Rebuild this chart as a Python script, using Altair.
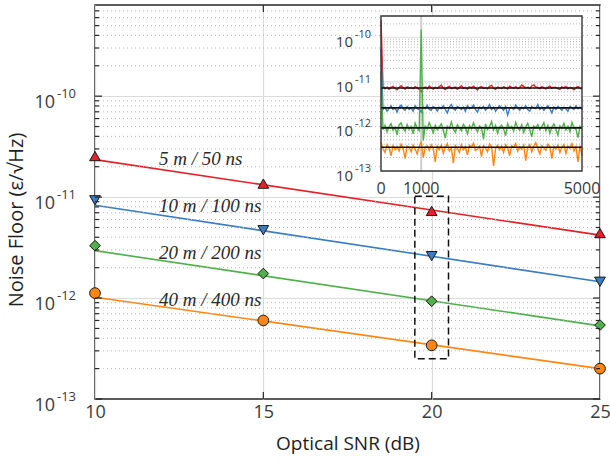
import altair as alt
import pandas as pd

# ---------------- main panel: noise floor vs optical SNR ----------------
snr_db = [10, 15, 20, 25]
series = ["5 m / 50 ns", "10 m / 100 ns", "20 m / 200 ns", "40 m / 400 ns"]
noise_5m = [2.55e-11, 1.36e-11, 7.3e-12, 4.4e-12]
noise_10m = [9.3e-12, 4.7e-12, 2.6e-12, 1.45e-12]
noise_20m = [3.3e-12, 1.75e-12, 9.3e-13, 5.4e-13]
noise_40m = [1.12e-12, 6.0e-13, 3.4e-13, 2.0e-13]

# fitted trend lines (value at 10 dB and at 25 dB)
fit_snr = [10, 25]
fit_5m = [2.35e-11, 4.2e-12]
fit_10m = [8.3e-12, 1.45e-12]
fit_20m = [2.95e-12, 5.3e-13]
fit_40m = [1.02e-12, 2.0e-13]

# in-plot series labels
label_snr = 11.9
label_noise = [2.38e-11, 8.1e-12, 2.8e-12, 9.5e-13]

# dashed box around the 20 dB points
box_snr = [19.5, 20.5]
box_noise = [1.02e-11, 2.5e-13]

colors = ["#e42228", "#3a7dc0", "#50b04b", "#ff8613"]
shapes = ["triangle-up", "triangle-down", "diamond", "circle"]
marker_sizes = [115, 115, 80, 90]

snr_ticks = [10, 15, 20, 25]
decades = [-13, -12, -11, -10]
y_lo, y_hi = 1e-13, 8e-10

# ---------------- inset: noise spectra at 20 dB (units of 1e-13) ----------------
freq_hz = list(range(0, 5001, 50))
psd_5m = [
    2400, 79, 70, 76, 68, 74, 79, 71, 66, 75,
    82, 73, 69, 77, 72, 74, 70, 78, 73, 68,
    60, 72, 76, 70, 81, 74, 69, 75, 71, 78,
    84, 72, 67, 74, 79, 70, 73, 76, 68, 75,
    82, 71, 74, 69, 77, 73, 80, 72, 66, 75,
    78, 71, 74, 70, 79, 83, 72, 68, 76, 73,
    71, 77, 74, 69, 80, 75, 72, 78, 70, 74,
    85, 79, 73, 76, 71, 81, 86, 77, 74, 70,
    78, 73, 69, 75, 80, 72, 76, 74, 71, 68,
    77, 73, 79, 70, 75, 72, 66, 74, 78, 71,
    69,
]
psd_10m = [
    550, 24, 27, 22, 25, 29, 24, 26, 21, 27,
    30, 25, 23, 28, 24, 26, 22, 29, 25, 24,
    21, 27, 25, 30, 24, 23, 28, 26, 22, 27,
    25, 29, 24, 20, 27, 31, 25, 23, 28, 26,
    24, 27, 22, 29, 25, 26, 30, 24, 21, 27,
    25, 28, 23, 26, 31, 24, 27, 22, 25, 29,
    26, 23, 28, 18, 25, 27, 24, 30, 26, 23,
    27, 25, 29, 24, 22, 28, 26, 25, 31, 24,
    27, 23, 26, 29, 25, 20, 27, 24, 28, 26,
    23, 27, 25, 22, 28, 26, 24, 29, 25, 27,
    24,
]
psd_20m = [
    170, 8.5, 10.5, 7.5, 9.8, 11.5, 8.2, 9.5, 6.5, 10.8,
    12.0, 9.0, 7.8, 11.0, 8.6, 10.0, 6.8, 11.8, 9.2, 8.0,
    1500, 4.8, 10.2, 8.8, 12.2, 9.4, 7.2, 10.6, 8.4, 9.8,
    11.4, 8.1, 5.5, 10.1, 9.0, 12.6, 8.7, 7.4, 10.9, 9.3,
    8.0, 11.1, 9.6, 6.9, 10.4, 8.9, 12.0, 9.1, 7.6, 10.3,
    9.4, 5.2, 11.3, 8.5, 9.9, 12.8, 8.3, 10.5, 7.1, 9.6,
    10.7, 8.8, 6.2, 11.6, 9.2, 10.0, 7.9, 12.4, 9.5, 8.2,
    10.9, 7.3, 9.7, 11.8, 8.6, 5.8, 10.2, 9.3, 11.0, 8.4,
    9.9, 12.1, 8.1, 10.5, 7.0, 9.6, 11.4, 8.7, 6.4, 10.3,
    9.0, 11.7, 8.3, 10.1, 7.7, 12.3, 9.4, 8.6, 5.6, 10.0,
    8.8,
]
psd_40m = [
    4.5, 3.1, 2.6, 3.9, 3.3, 2.2, 3.7, 3.0, 3.5, 2.8,
    4.0, 3.2, 1.9, 3.6, 3.4, 2.7, 3.8, 3.1, 2.4, 3.5,
    4.6, 2.0, 3.3, 3.7, 2.9, 3.9, 3.2, 1.6, 3.6, 3.0,
    3.8, 2.5, 3.4, 4.1, 2.8, 3.3, 1.5, 3.7, 3.2, 2.6,
    3.9, 3.0, 3.5, 2.3, 3.8, 3.4, 4.2, 2.9, 3.1, 3.6,
    2.1, 3.7, 3.3, 2.7, 4.0, 3.5, 1.3, 3.2, 3.8, 3.0,
    3.6, 2.6, 3.9, 3.3, 2.2, 3.7, 3.4, 4.1, 2.8, 3.5,
    3.1, 3.8, 1.7, 3.4, 3.9, 2.7, 3.6, 4.3, 3.2, 2.4,
    3.7, 3.3, 2.9, 4.0, 3.5, 1.9, 3.6, 3.1, 3.8, 2.6,
    3.4, 3.9, 2.5, 3.6, 3.2, 4.1, 2.8, 3.5, 1.6, 3.7,
    2.2,
]
psd_unit = 1e-13
# mean level of each spectrum (black reference lines)
psd_mean = [7.3e-12, 2.6e-12, 9.3e-13, 3.4e-13]
inset_freq_ticks = [0, 1000, 5000]
inset_decades = [-13, -12, -11, -10]
inset_lo, inset_hi = 1e-13, 3e-10

# ---------------- layout / style ----------------
W, H = 505, 394
INSET_X = [286, 487]      # inset frame, pixels inside the main plot area
INSET_Y = [166, 11]
FONT = "Open Sans"
TXT = "#3a3a3a"
GRID = "#dcdcdc"
DOTS = "#b8b8b8"

xs = alt.Scale(domain=[10, 25], nice=False)
ys = alt.Scale(type="log", domain=[y_lo, y_hi], nice=False)
x_axis = alt.Axis(
    values=snr_ticks, format="d", grid=True, gridColor=GRID, gridWidth=1.2,
    ticks=False, domain=False, labelFlush=False, labelFont=FONT, labelFontSize=18,
    labelColor=TXT, labelPadding=4, title="Optical SNR (dB)", titleFont=FONT,
    titleFontSize=19, titleFontWeight="normal", titleColor="#1e1e1e", titlePadding=13,
)
y_axis = alt.Axis(
    values=[1e-12, 1e-11, 1e-10], grid=True, gridColor=GRID, gridWidth=1.2,
    labels=False, ticks=False, domain=False, title=None,
)
X = alt.X("snr:Q", scale=xs, axis=x_axis)
Y = alt.Y("nf:Q", scale=ys, axis=y_axis)

color_scale = alt.Scale(domain=series, range=colors)

all_noise = [noise_5m, noise_10m, noise_20m, noise_40m]
all_fit = [fit_5m, fit_10m, fit_20m, fit_40m]
pts = pd.DataFrame(
    [{"snr": s, "nf": v, "series": name}
     for name, vals in zip(series, all_noise) for s, v in zip(snr_db, vals)]
)
fits = pd.DataFrame(
    [{"snr": s, "nf": v, "series": name}
     for name, vals in zip(series, all_fit) for s, v in zip(fit_snr, vals)]
)
labels = pd.DataFrame({"snr": [label_snr] * 4, "nf": label_noise, "series": series})

major_vals = [10.0 ** d for d in decades]
minor_vals = [m * 10.0 ** d for d in decades for m in range(2, 10) if m * 10.0 ** d < y_hi * 0.999]
majors = pd.DataFrame({"nf": major_vals})
minors = pd.DataFrame({"nf": minor_vals})
ylab = pd.DataFrame({"nf": major_vals, "base": ["10"] * 4, "exp": [str(d) for d in decades]})
xt = pd.DataFrame({"snr": snr_ticks[1:-1]})
box = pd.DataFrame({"snr": [box_snr[0]], "snr2": [box_snr[1]], "nf": [box_noise[0]], "nf2": [box_noise[1]]})

fit_lines = alt.Chart(fits).mark_line(strokeWidth=1.6).encode(
    x=X, y=Y, color=alt.Color("series:N", scale=color_scale, legend=None), detail="series:N"
)
minor_grid = alt.Chart(minors).mark_rule(color=DOTS, strokeDash=[1, 3], strokeWidth=1).encode(y=Y)
markers = alt.Chart(pts).mark_point(filled=True, opacity=1, stroke="#1a1a1a", strokeWidth=1).encode(
    x=X, y=Y,
    fill=alt.Fill("series:N", scale=color_scale, legend=None),
    shape=alt.Shape("series:N", scale=alt.Scale(domain=series, range=shapes), legend=None),
    size=alt.Size("series:N", scale=alt.Scale(domain=series, range=marker_sizes), legend=None),
)
series_text = alt.Chart(labels).mark_text(
    align="left", baseline="middle", font="Liberation Serif", fontStyle="italic",
    fontSize=19, color="#2a2a2a",
).encode(x=X, y=Y, text="series:N")
box_mark = alt.Chart(box).mark_rect(
    fillOpacity=0, stroke="#111111", strokeDash=[7, 4], strokeWidth=1.5
).encode(x=X, x2="snr2", y=Y, y2="nf2")

# inward ticks on all four sides
tick_style = dict(color="#262626", strokeWidth=1.2)
tick_layers = [
    alt.Chart(majors).mark_rule(**tick_style).encode(y=Y, x=alt.value(0), x2=alt.value(7)),
    alt.Chart(majors).mark_rule(**tick_style).encode(y=Y, x=alt.value(W - 7), x2=alt.value(W)),
    alt.Chart(minors).mark_rule(**tick_style).encode(y=Y, x=alt.value(0), x2=alt.value(4)),
    alt.Chart(minors).mark_rule(**tick_style).encode(y=Y, x=alt.value(W - 4), x2=alt.value(W)),
    alt.Chart(xt).mark_rule(**tick_style).encode(x=X, y=alt.value(H - 7), y2=alt.value(H)),
    alt.Chart(xt).mark_rule(**tick_style).encode(x=X, y=alt.value(0), y2=alt.value(7)),
]

# y tick labels written as 10 with a raised exponent
ylabel_base = alt.Chart(ylab).mark_text(
    align="right", baseline="alphabetic", dy=12, font=FONT, fontSize=18, color=TXT
).encode(y=Y, x=alt.value(-40), text="base:N")
ylabel_exp = alt.Chart(ylab).mark_text(
    align="left", baseline="alphabetic", dy=2, font=FONT, fontSize=13, color=TXT
).encode(y=Y, x=alt.value(-38), text="exp:N")
y_title = alt.Chart(pd.DataFrame({"t": ["Noise Floor (ε/√Hz)"]})).mark_text(
    angle=270, align="center", baseline="middle", font=FONT, fontSize=20, color="#1e1e1e"
).encode(x=alt.value(-78), y=alt.value(215), text="t:N")

main = alt.layer(
    fit_lines, minor_grid, markers, series_text, box_mark, *tick_layers,
    ylabel_base, ylabel_exp, y_title,
)

# ---------------- inset ----------------
ixs = alt.Scale(domain=[0, 5000], nice=False, range=INSET_X)
iys = alt.Scale(type="log", domain=[inset_lo, inset_hi], nice=False, range=INSET_Y)
IX = alt.X("freq:Q", scale=ixs, axis=None)
IY = alt.Y("psd:Q", scale=iys, axis=None)

spec = pd.DataFrame(
    [{"freq": f, "psd": v * psd_unit, "series": name}
     for name, vals in zip(series, [psd_5m, psd_10m, psd_20m, psd_40m])
     for f, v in zip(freq_hz, vals)]
)
frame = pd.DataFrame({"freq": [0], "freq2": [5000], "psd": [inset_lo], "psd2": [inset_hi]})
i_major = pd.DataFrame({"psd": [1e-12, 1e-11, 1e-10]})
i_minor = pd.DataFrame({"psd": [m * 10.0 ** d for d in inset_decades for m in range(2, 10)
                                if m * 10.0 ** d < inset_hi * 0.999]})
i_vgrid = pd.DataFrame({"freq": [1000], "psd": [inset_lo], "psd2": [inset_hi]})
i_means = pd.DataFrame({"freq": [0] * 4, "freq2": [5000] * 4, "psd": psd_mean})
i_ylab = pd.DataFrame({"psd": [10.0 ** d for d in inset_decades], "base": ["10"] * 4,
                       "exp": [str(d) for d in inset_decades]})
i_xlab = pd.DataFrame({"freq": inset_freq_ticks, "t": [str(f) for f in inset_freq_ticks]})

inset_bg = alt.Chart(frame).mark_rect(fill="white").encode(x=IX, x2="freq2", y=IY, y2="psd2")
inset_minor = alt.Chart(i_minor).mark_rule(color=DOTS, strokeDash=[1, 2], strokeWidth=1).encode(
    y=IY, x=alt.value(INSET_X[0]), x2=alt.value(INSET_X[1])
)
inset_major = alt.Chart(i_major).mark_rule(color=GRID, strokeWidth=1.2).encode(
    y=IY, x=alt.value(INSET_X[0]), x2=alt.value(INSET_X[1])
)
inset_vgrid = alt.Chart(i_vgrid).mark_rule(color="#cfcfcf", strokeWidth=2).encode(x=IX, y=IY, y2="psd2")
inset_traces = alt.Chart(spec).mark_line(strokeWidth=1.4).encode(
    x=IX, y=IY,
    color=alt.Color("series:N", scale=color_scale, legend=None),
    detail="series:N",
)
inset_means = alt.Chart(i_means).mark_rule(color="#111111", strokeWidth=1.6).encode(
    x=IX, x2="freq2", y=IY
)
inset_frame = alt.Chart(frame).mark_rect(
    fillOpacity=0, stroke="#333333", strokeWidth=1.4
).encode(x=IX, x2="freq2", y=IY, y2="psd2")
inset_ybase = alt.Chart(i_ylab).mark_text(
    align="right", baseline="alphabetic", dy=10, font=FONT, fontSize=15, color=TXT
).encode(y=IY, x=alt.value(INSET_X[0] - 28), text="base:N")
inset_yexp = alt.Chart(i_ylab).mark_text(
    align="left", baseline="alphabetic", dy=1, font=FONT, fontSize=11, color=TXT
).encode(y=IY, x=alt.value(INSET_X[0] - 26), text="exp:N")
inset_xlab = alt.Chart(i_xlab).mark_text(
    align="center", baseline="alphabetic", font=FONT, fontSize=16, color=TXT
).encode(x=IX, y=alt.value(INSET_Y[0] + 23), text="t:N")

inset = alt.layer(
    inset_bg, inset_minor, inset_major, inset_vgrid, inset_traces, inset_means,
    inset_frame, inset_ybase, inset_yexp, inset_xlab,
)

chart = (
    alt.layer(main, inset)
    .resolve_scale(x="independent", y="independent")
    .properties(
        width=W, height=H,
        autosize=alt.AutoSizeParams(type="none"),
        padding={"left": 95, "top": 5, "right": 10, "bottom": 63},
        background="white",
    )
    .configure_view(stroke="#262626", strokeWidth=1.5)
)

chart.save("out.html", embed_options={"renderer": "svg", "actions": False})
